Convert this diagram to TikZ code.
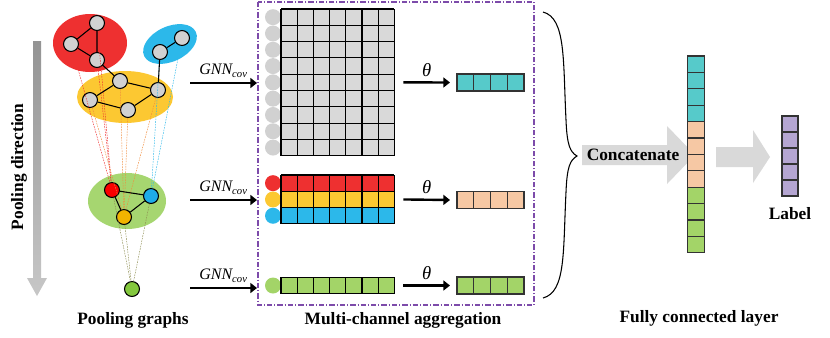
\documentclass[tikz,border=0pt]{standalone}
\usepackage{fontspec}
\setmainfont{Liberation Serif}
\usepackage{xcolor}
\usetikzlibrary{arrows.meta, positioning, calc, backgrounds}
\definecolor{clred}{RGB}{238,48,48}
\definecolor{ndred}{RGB}{250,0,0}
\definecolor{clblue}{RGB}{44,184,234}
\definecolor{ndblue}{RGB}{30,172,232}
\definecolor{clyellow}{RGB}{252,200,50}
\definecolor{ndyellow}{RGB}{242,180,0}
\definecolor{clgreen}{RGB}{166,214,112}
\definecolor{ndgreen}{RGB}{132,200,62}
\definecolor{vcyan}{RGB}{86,202,202}
\definecolor{vpeach}{RGB}{246,200,164}
\definecolor{vgreen}{RGB}{163,212,104}
\definecolor{vpurple}{RGB}{181,166,210}
\definecolor{boxpurple}{RGB}{125,75,170}
\definecolor{lnorange}{RGB}{240,140,60}
\definecolor{lnolive}{RGB}{140,140,80}
\tikzset{
  gnode/.style={
    draw, circle, line width=0.8pt, minimum size=11.2pt,
    inner sep=0pt, fill=black!18
  },
  chdot/.style={circle, minimum size=12pt, inner sep=0pt},
  cell/.style={
    minimum width=12.15pt, minimum height=12.2pt,
    inner sep=0pt, outer sep=0pt
  },
  gridln/.style={line width=0.8pt},
  vcell/.style={cell, draw=black!80, line width=0.8pt, minimum width=12.56pt, minimum height=12.75pt},
  colcell/.style={cell, draw=black!80, line width=0.8pt, minimum width=12.4pt, minimum height=12.3pt},
  labcell/.style={cell, draw=black!80, line width=0.8pt, minimum width=12pt, minimum height=12pt},
  link/.style={line width=0.8pt},
  pool/.style={dash pattern=on 1.2pt off 0.8pt, line width=0.35pt},
  sig/.style={-{Triangle[length=5pt,width=7.5pt]}, line width=1.8pt},
  fat/.style={fill=black!15},
  lbl/.style={font=\bfseries\fontsize{13}{15}\selectfont},
  gnn/.style={font=\itshape\fontsize{12}{14}\selectfont},
  th/.style={font=\itshape\fontsize{14}{16}\selectfont}
}
\begin{document}
\begin{tikzpicture}[x=0.75pt, y=-0.75pt]
  \useasboundingbox (0,0) rectangle (830,337);

  % pooling direction
  \shade[top color=black!42, bottom color=black!22]
    (33,41) -- (41,41) -- (41,278) -- (47,278) -- (37,296)
    -- (27,278) -- (33,278) -- cycle;
  \node[lbl, rotate=90] (pdir) at (19,167) {Pooling direction};

  % pooling graphs
  \node[gnode] (r1) at (97,23)  {};
  \node[gnode] (r2) at (71,44)  {};
  \node[gnode] (r3) at (97,60)  {};
  \node[gnode] (b1) at (182,38) {};
  \node[gnode] (b2) at (160,52) {};
  \node[gnode] (y1) at (120,81) {};
  \node[gnode] (y2) at (158,90) {};
  \node[gnode] (y3) at (90,100) {};
  \node[gnode] (y4) at (128,110) {};
  \node[gnode, fill=ndred]    (p1) at (112,190) {};
  \node[gnode, fill=ndblue]   (p2) at (151,196) {};
  \node[gnode, fill=ndyellow] (p3) at (124,217) {};
  \node[gnode, fill=ndgreen]  (q)  at (132,289) {};

  \begin{scope}[on background layer]
    \fill[clred] (90,43) ellipse [x radius=37, y radius=29];
    \fill[clblue, rotate around={25:(170,44)}] (170,44) ellipse [x radius=28.5, y radius=17.5];
    \fill[clyellow] (125,97) ellipse [x radius=48, y radius=26];
    \fill[clgreen] (127,201) ellipse [x radius=39, y radius=28];
  \end{scope}

  \foreach \a in {r1,r2,r3} \draw[pool, clred] (\a) -- (p1);
  \foreach \a in {y1,y2,y3,y4} \draw[pool, lnorange] (\a) -- (p3);
  \foreach \a in {b1,b2} \draw[pool, clblue] (\a) -- (p2);
  \foreach \a in {p1,p2,p3} \draw[pool, lnolive] (\a) -- (q);

  \draw[link] (r1) -- (r2) -- (r3) -- (r1);
  \draw[link] (r3) -- (y1);
  \draw[link] (b1) -- (b2) -- (y2);
  \draw[link] (y1) -- (y2) -- (y4) -- (y3) -- (y1);
  \draw[link] (p1) -- (p2) -- (p3) -- (p1);
  \node[lbl] (pgr) at (133,320) {Pooling graphs};

  % GNN arrows
  \foreach \i/\y in {1/83, 2/200, 3/288} {
    \coordinate (gin\i) at (190,\y);
    \coordinate (gout\i) at (257,\y);
    \draw[sig] (gin\i) -- node[gnn, above=0pt] {GNN\textsubscript{cov}} (gout\i);
  }

  % multi-channel aggregation
  \draw[boxpurple, line width=0.9pt, dash pattern=on 4pt off 1.5pt on 0.8pt off 1.5pt]
    (258,2) rectangle (534,305);

  \foreach \r in {1,...,9} {
    \node[chdot, fill=black!18] (gd-\r) at (273,{9+16.3*(\r-0.5)}) {};
    \foreach \c in {1,...,7}
      \node[cell, fill=black!15] (ga-\r-\c) at ({281+16.2*(\c-0.5)},{9+16.3*(\r-0.5)}) {};
  }
  \foreach \r/\col in {1/clred, 2/clyellow, 3/clblue} {
    \node[chdot, fill=\col] (cd-\r) at (273,{175+16.3*(\r-0.5)}) {};
    \foreach \c in {1,...,7}
      \node[cell, fill=\col] (ca-\r-\c) at ({281+16.2*(\c-0.5)},{175+16.3*(\r-0.5)}) {};
  }
  \node[chdot, fill=vgreen] (ed) at (273,285.5) {};
  \foreach \c in {1,...,7}
    \node[cell, fill=vgreen] (ea-\c) at ({281+16.2*(\c-0.5)},285.5) {};

  % grid lines
  \draw[gridln] (ga-1-1.north west) -- (ga-9-1.south west);
  \draw[gridln] (ga-1-1.north west) -- (ga-1-7.north east);
  \foreach \c in {1,...,7} \draw[gridln] (ga-1-\c.north east) -- (ga-9-\c.south east);
  \foreach \r in {1,...,9} \draw[gridln] (ga-\r-1.south west) -- (ga-\r-7.south east);
  \draw[gridln] (ca-1-1.north west) -- (ca-3-1.south west);
  \draw[gridln] (ca-1-1.north west) -- (ca-1-7.north east);
  \foreach \c in {1,...,7} \draw[gridln] (ca-1-\c.north east) -- (ca-3-\c.south east);
  \foreach \r in {1,...,3} \draw[gridln] (ca-\r-1.south west) -- (ca-\r-7.south east);
  \draw[gridln] (ea-1.north west) rectangle (ea-7.south east);
  \foreach \c in {1,...,6} \draw[gridln] (ea-\c.north east) -- (ea-\c.south east);

  \foreach \c in {1,...,4} {
    \node[vcell, fill=vcyan]  (vc-\c) at ({457+16.75*(\c-0.5)},82.5) {};
    \node[vcell, fill=vpeach] (vp-\c) at ({457+16.75*(\c-0.5)},200) {};
    \node[vcell, fill=vgreen] (vg-\c) at ({457+16.75*(\c-0.5)},285.5) {};
  }

  \draw[sig] ($(ga-5-7.east)+(9,0)$) -- node[th, above=0pt] {θ} ($(vc-1.west)+(-7,0)$);
  \draw[sig] ($(ca-2-7.east)+(9,0)$) -- node[th, above=0pt] {θ} ($(vp-1.west)+(-7,0)$);
  \draw[sig] ($(ea-7.east)+(9,0)$)   -- node[th, above=0pt] {θ} ($(vg-1.west)+(-7,0)$);
  \node[lbl] (mca) at (403,320) {Multi-channel aggregation};

  % fully connected layer
  \draw[line width=0.8pt] (543,12) .. controls (566,18) and (563,60) .. (566,120)
    .. controls (567,145) and (570,152) .. (577,156)
    .. controls (570,160) and (567,167) .. (566,192)
    .. controls (563,252) and (566,292) .. (543,298);

  \fill[fat] (582,145) -- (667,145) -- (667,126) -- (695,155) -- (667,184)
    -- (667,165) -- (582,165) -- cycle;
  \node[lbl] (cat) at (633,155) {Concatenate};
  \fill[fat] (716,147) -- (753,147) -- (753,130) -- (770,157) -- (753,183)
    -- (753,167) -- (716,167) -- cycle;

  \foreach \r/\col in {1/vcyan, 2/vcyan, 3/vcyan, 4/vcyan, 5/vpeach, 6/vpeach,
                       7/vpeach, 8/vpeach, 9/vgreen, 10/vgreen, 11/vgreen, 12/vgreen}
    \node[colcell, fill=\col] (fc-\r) at (696,{56+16.4*(\r-0.5)}) {};
  \foreach \r in {1,...,5}
    \node[labcell, fill=vpurple] (lb-\r) at (790,{116+16*(\r-0.5)}) {};
  \node[lbl, below=5pt of lb-5] (lab) {Label};
  \node[lbl] (fcl) at (699,318) {Fully connected layer};

\end{tikzpicture}
\end{document}
